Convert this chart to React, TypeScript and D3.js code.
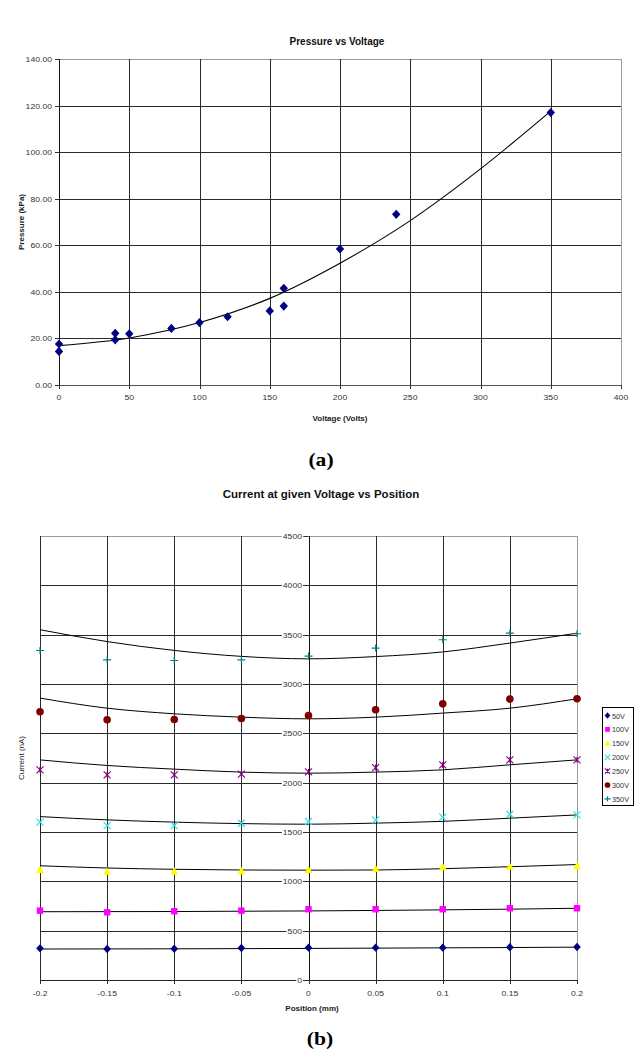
import React from 'react';
import * as d3 from 'd3';

// ---------- Chart (a): Pressure vs Voltage ----------
const voltages = [0, 0, 40, 40, 50, 80, 100, 120, 150, 160, 160, 200, 240, 350];
const pressures = [17.6, 14.4, 22.2, 19.4, 22.0, 24.3, 26.8, 29.3, 31.8, 41.5, 33.9, 58.4, 73.3, 117.0];
const trendVoltages = [0, 50, 100, 150, 200, 250, 300, 350];
const trendPressures = [16.9, 20.2, 26.8, 37.2, 52.3, 70.6, 92.8, 117.6];
const voltageTicks = [0, 50, 100, 150, 200, 250, 300, 350, 400];
const pressureTicks = [0, 20, 40, 60, 80, 100, 120, 140];

// ---------- Chart (b): Current vs Position ----------
const positions = [-0.2, -0.15, -0.1, -0.05, 0, 0.05, 0.1, 0.15, 0.2];
const seriesNames = ['50V', '100V', '150V', '200V', '250V', '300V', '350V'];
const current50 = [321, 314, 317, 325, 328, 328, 328, 332, 335];
const current100 = [703, 686, 697, 703, 717, 717, 717, 727, 727];
const current150 = [1116, 1099, 1099, 1105, 1116, 1126, 1146, 1149, 1156];
const current200 = [1600, 1565, 1565, 1589, 1606, 1623, 1650, 1680, 1673];
const current250 = [2130, 2079, 2079, 2086, 2110, 2153, 2180, 2231, 2231];
const current300 = [2718, 2637, 2640, 2650, 2681, 2739, 2799, 2847, 2850];
const current350 = [3340, 3245, 3238, 3245, 3283, 3364, 3448, 3516, 3509];
const trend50 = [314, 315, 316, 318, 320, 323, 326, 329, 333];
const trend100 = [692, 693, 694, 697, 700, 705, 711, 718, 727];
const trend150 = [1158, 1135, 1122, 1115, 1113, 1115, 1128, 1148, 1170];
const trend200 = [1656, 1623, 1600, 1585, 1579, 1590, 1608, 1640, 1673];
const trend250 = [2231, 2174, 2137, 2107, 2096, 2107, 2130, 2181, 2231];
const trend300 = [2857, 2755, 2698, 2664, 2647, 2664, 2705, 2755, 2850];
const trend350 = [3550, 3430, 3340, 3280, 3255, 3278, 3325, 3415, 3515];
const positionTicks = [-0.2, -0.15, -0.1, -0.05, 0, 0.05, 0.1, 0.15, 0.2];
const currentTicks = [0, 500, 1000, 1500, 2000, 2500, 3000, 3500, 4000, 4500];

const seriesValues = [current50, current100, current150, current200, current250, current300, current350];
const seriesTrends = [trend50, trend100, trend150, trend200, trend250, trend300, trend350];
const seriesColors = ['#000080', '#ff00ff', '#ffff00', '#33dde6', '#800080', '#800000', '#008080'];

const SANS = '"Liberation Sans", Arial, sans-serif';
const SERIF = '"Liberation Serif", "Times New Roman", serif';

const px = (v: number) => Math.round(v) + 0.5;

function T({ x, y, size, anchor = 'middle', weight = 'normal', sx = 1, fill = '#000', family = SANS, rotate = 0, children }: any) {
  return (
    <text
      transform={`translate(${x},${y}) rotate(${rotate}) scale(${sx},1)`}
      fontSize={size}
      textAnchor={anchor}
      fontWeight={weight}
      fill={fill}
      fontFamily={family}
    >
      {children}
    </text>
  );
}

function Marker({ kind, x, y, color, s = 1 }: any) {
  switch (kind) {
    case 0:
      return <path d={`M${x},${y - 4.2 * s}L${x + 3.8 * s},${y}L${x},${y + 4.2 * s}L${x - 3.8 * s},${y}Z`} fill={color} />;
    case 1:
      return <rect x={x - 3.2 * s} y={y - 3.2 * s} width={6.4 * s} height={6.4 * s} fill={color} />;
    case 2:
      return <path d={`M${x},${y - 4.2 * s}L${x + 4 * s},${y + 3.2 * s}L${x - 4 * s},${y + 3.2 * s}Z`} fill={color} />;
    case 3:
      return (
        <path d={`M${x - 3.5 * s},${y - 3.5 * s}L${x + 3.5 * s},${y + 3.5 * s}M${x + 3.5 * s},${y - 3.5 * s}L${x - 3.5 * s},${y + 3.5 * s}`} stroke={color} strokeWidth={1.2} fill="none" />
      );
    case 4:
      return (
        <path d={`M${x - 3.5 * s},${y - 3.5 * s}L${x + 3.5 * s},${y + 3.5 * s}M${x + 3.5 * s},${y - 3.5 * s}L${x - 3.5 * s},${y + 3.5 * s}M${x},${y - 3 * s}L${x},${y + 3 * s}`} stroke={color} strokeWidth={1.1} fill="none" />
      );
    case 5:
      return <circle cx={x} cy={y} r={3.8 * s} fill={color} />;
    default:
      return (
        <path d={`M${x - 4 * s},${y}L${x + 4 * s},${y}M${x},${y - 3.5 * s}L${x},${y + 3.5 * s}`} stroke={color} strokeWidth={1.1} fill="none" />
      );
  }
}

export default function App() {
  const W = 641;
  const H = 1051;

  // ----- chart a -----
  const xA = d3.scaleLinear().domain([0, 400]).range([59, 621]);
  const yA = d3.scaleLinear().domain([0, 140]).range([385, 59]);
  const trendLineA = d3
    .line<number>()
    .x((_, i) => xA(trendVoltages[i]))
    .y((d) => yA(d))
    .curve(d3.curveMonotoneX)(trendPressures);

  // ----- chart b -----
  const xB = d3.scaleLinear().domain([-0.2, 0.2]).range([40, 577]);
  const yB = d3.scaleLinear().domain([0, 4500]).range([980, 536]);
  const lineB = d3
    .line<number>()
    .x((_, i) => xB(positions[i]))
    .y((d) => yB(d))
    .curve(d3.curveMonotoneX);

  const gridColor = '#2a2a2a';
  const borderColor = '#9a9a9a';
  const labelColor = '#333';

  return (
    <svg width={W} height={H} style={{ position: 'absolute', left: 0, top: 0, display: 'block', background: '#fff' }}>
      <rect x={0} y={0} width={W} height={H} fill="#fff" />

      {/* ================= Chart (a) ================= */}
      <T x={337} y={45} size={10} weight="bold" fill="#111">Pressure vs Voltage</T>

      {pressureTicks.map((t) => (
        <line key={'ha' + t} x1={xA(0)} x2={xA(400)} y1={px(yA(t))} y2={px(yA(t))} stroke={t === 140 ? borderColor : gridColor} strokeWidth={1} />
      ))}
      {voltageTicks.map((t) => (
        <line key={'va' + t} x1={px(xA(t))} x2={px(xA(t))} y1={yA(140)} y2={yA(0)} stroke={t === 400 ? borderColor : gridColor} strokeWidth={1} />
      ))}
      <line x1={px(xA(0))} x2={px(xA(0))} y1={yA(140)} y2={yA(0) + 0.5} stroke="#111" />
      <line x1={xA(0)} x2={xA(400) + 1} y1={px(yA(0))} y2={px(yA(0))} stroke="#555" />
      {pressureTicks.map((t) => (
        <g key={'ya' + t}>
          <line x1={xA(0) - 4} x2={xA(0)} y1={px(yA(t))} y2={px(yA(t))} stroke="#333" />
          <T x={52} y={yA(t) + 3} size={8} anchor="end" fill={labelColor} sx={1.08}>{d3.format('.2f')(t)}</T>
        </g>
      ))}
      {voltageTicks.map((t) => (
        <g key={'xa' + t}>
          <line x1={px(xA(t))} x2={px(xA(t))} y1={yA(0)} y2={yA(0) + 4} stroke="#333" />
          <T x={xA(t)} y={400} size={8} fill={labelColor} sx={1.08}>{String(t)}</T>
        </g>
      ))}
      <T x={340} y={421} size={8} weight="bold" fill="#222">Voltage (Volts)</T>
      <T x={24} y={222} size={8} weight="bold" fill="#222" rotate={-90}>Pressure (kPa)</T>

      <path d={trendLineA || ''} fill="none" stroke="#000" strokeWidth={1.1} />
      {voltages.map((v, i) => (
        <path
          key={'pa' + i}
          d={`M${xA(v)},${yA(pressures[i]) - 4.6}L${xA(v) + 4.2},${yA(pressures[i])}L${xA(v)},${yA(pressures[i]) + 4.6}L${xA(v) - 4.2},${yA(pressures[i])}Z`}
          fill="#000080"
        />
      ))}

      <T x={321} y={466} size={18} weight="bold" family={SERIF} sx={1.2}>(a)</T>

      {/* ================= Chart (b) ================= */}
      <T x={321} y={498} size={11.5} weight="bold" fill="#111">Current at given Voltage vs Position</T>

      {currentTicks.map((t) => (
        <line key={'hb' + t} x1={xB(-0.2)} x2={xB(0.2)} y1={px(yB(t))} y2={px(yB(t))} stroke={t === 4500 ? borderColor : gridColor} />
      ))}
      {positionTicks.map((t, i) => (
        <line key={'vb' + i} x1={px(xB(t))} x2={px(xB(t))} y1={yB(4500)} y2={yB(0)} stroke={i === positionTicks.length - 1 ? borderColor : gridColor} />
      ))}
      <line x1={px(xB(0))} x2={px(xB(0))} y1={yB(4500)} y2={yB(0) + 0.5} stroke="#111" />
      <line x1={xB(-0.2)} x2={xB(0.2) + 1} y1={px(yB(0))} y2={px(yB(0))} stroke="#222" />
      {positionTicks.map((t, i) => (
        <g key={'xb' + i}>
          <line x1={px(xB(t))} x2={px(xB(t))} y1={yB(0)} y2={yB(0) + 4} stroke="#333" />
          <T x={xB(t)} y={996} size={8} fill={labelColor} sx={1.08}>{String(t)}</T>
        </g>
      ))}
      {currentTicks.map((t) => (
        <g key={'yb' + t}>
          <rect x={302 - String(t).length * 4.8 - 1} y={yB(t) - 4} width={String(t).length * 4.8 + 2} height={8} fill="#fff" />
          <line x1={xB(0) - 5} x2={xB(0)} y1={px(yB(t))} y2={px(yB(t))} stroke="#333" />
          <T x={302} y={yB(t) + 3} size={8} anchor="end" fill={labelColor} sx={1.08}>{String(t)}</T>
        </g>
      ))}
      <T x={312} y={1011} size={8} weight="bold" fill="#222">Position (mm)</T>
      <T x={24} y={758} size={8} fill="#222" rotate={-90}>Current (nA)</T>

      {seriesTrends.map((tr, si) => (
        <path key={'tb' + si} d={lineB(tr) || ''} fill="none" stroke="#000" strokeWidth={1} />
      ))}
      {seriesValues.map((vals, si) =>
        vals.map((v, i) => <Marker key={'mb' + si + '-' + i} kind={si} x={xB(positions[i])} y={yB(v)} color={seriesColors[si]} />)
      )}

      {/* legend */}
      <rect x={602.5} y={707.5} width={31} height={98} fill="#fff" stroke="#000" />
      {seriesNames.map((n, i) => (
        <g key={'lg' + n}>
          <Marker kind={i} x={607.5} y={715.5 + i * 13.9} color={seriesColors[i]} s={0.75} />
          <T x={612} y={718.5 + i * 13.9} size={7.3} anchor="start" fill={labelColor}>{n}</T>
        </g>
      ))}

      <T x={320} y={1045} size={18} weight="bold" family={SERIF} sx={1.2}>(b)</T>
    </svg>
  );
}
